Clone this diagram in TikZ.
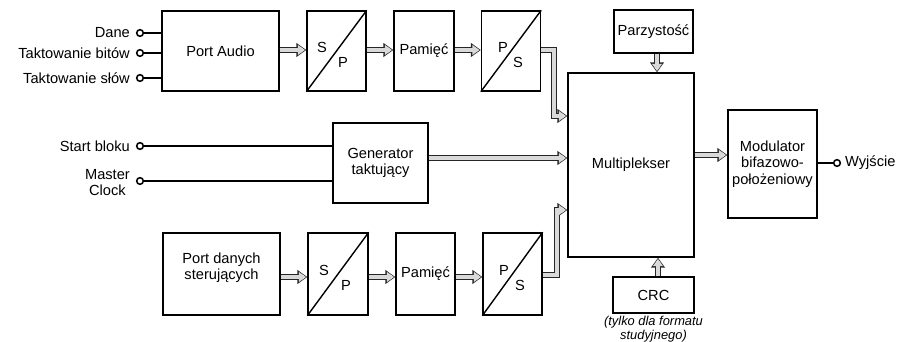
\documentclass[tikz,border=0pt]{standalone}
\usepackage{fontspec}
\setmainfont{Liberation Sans}
\usepackage{tikz}
\usetikzlibrary{arrows.meta,positioning}

\tikzset{
  blok/.style={draw,line width=1.2pt,rectangle,inner sep=1pt,align=center},
  wej/.style={draw,line width=1.3pt,circle,inner sep=0pt,minimum size=0.2cm,fill=white},
  opis/.style={anchor=east,inner sep=1pt},
  szyna/.style={draw=black!85,line width=4.4pt,-{Triangle[length=8.5pt,width=11.5pt]},
    postaction={draw=gray!30,line width=2.8pt,-{Triangle[length=6.2pt,width=8.2pt]},shorten >=1pt},
    postaction={draw=gray!30,line width=2.8pt,-,shorten >=3pt}},
  przew/.style={draw,line width=1.2pt}
}

\begin{document}
\begin{tikzpicture}[x=0.03cm,y=-0.03cm,font=\fontsize{12.5}{14}\selectfont]
\useasboundingbox (0,0) rectangle (898,342);
% tor audio
\node[blok,minimum width=3.51cm,minimum height=2.4cm] (pa) at (220.5,51) {Port Audio};
\node[blok,minimum width=1.77cm,minimum height=2.4cm] (sp1) at (336.5,51) {};
\node[blok,minimum width=1.8cm,minimum height=2.4cm] (pam1) at (424,51) {Pamięć};
\node[blok,minimum width=1.77cm,minimum height=2.4cm] (ps1) at (511,51) {};
\draw[line width=1.2pt] (sp1.south west) -- (sp1.north east);
\draw[line width=1.2pt] (ps1.south west) -- (ps1.north east);
\node (sp1s) at (322,47) {S};
\node (sp1p) at (343,62) {P};
\node (ps1p) at (503,47) {P};
\node (ps1s) at (518,62) {S};
% wejscia audio
\node[wej] (dane) at (140,33) {};
\node[wej] (bity) at (140,53) {};
\node[wej] (slowa) at (140,78) {};
\node[opis] (tdane) at (dane.west) [xshift=-0.14cm] {Dane};
\node[opis] (tbity) at (bity.west) [xshift=-0.14cm] {Taktowanie bitów};
\node[opis] (tslowa) at (slowa.west) [xshift=-0.14cm] {Taktowanie słów};
\draw[przew] (dane) -- (dane -| pa.west);
\draw[przew] (bity) -- (bity -| pa.west);
\draw[przew] (slowa) -- (slowa -| pa.west);
% generator
\node[blok,minimum width=2.85cm,minimum height=2.4cm] (gen) at (380.5,163) {Generator\\taktujący};
\node[wej] (start) at (140,146) {};
\node[wej] (clk) at (140,181) {};
\node[opis] (tstart) at (start.west) [xshift=-0.14cm] {Start bloku};
\node[opis,align=center] (tclk) at (clk.west) [xshift=-0.14cm,yshift=-0.05cm] {Master\\Clock};
\draw[przew] (start) -- (start -| gen.west);
\draw[przew] (clk) -- (clk -| gen.west);
% tor danych sterujacych
\node[blok,minimum width=3.51cm,minimum height=2.46cm] (pds) at (221.5,274) {};
\node[align=center] (tpds) at (pds.center) [yshift=0.18cm] {Port danych\\sterujących};
\node[blok,minimum width=1.8cm,minimum height=2.46cm] (sp2) at (338,274) {};
\node[blok,minimum width=1.77cm,minimum height=2.46cm] (pam2) at (425.5,274) {Pamięć};
\node[blok,minimum width=1.77cm,minimum height=2.46cm] (ps2) at (512.5,274) {};
\draw[line width=1.2pt] (sp2.south west) -- (sp2.north east);
\draw[line width=1.2pt] (ps2.south west) -- (ps2.north east);
\node (sp2s) at (324,270) {S};
\node (sp2p) at (346,285) {P};
\node (ps2p) at (504,270) {P};
\node (ps2s) at (520,285) {S};
% multiplekser i reszta
\node[blok,minimum width=3.78cm,minimum height=5.52cm] (mux) at (631,165) {Multiplekser};
\node[blok,minimum width=2.37cm,minimum height=1.29cm] (parz) at (653.5,31.5) {Parzystość};
\node[blok,minimum width=2.43cm,minimum height=1.08cm] (crc) at (653.5,295) {CRC};
\node[align=center,font=\fontsize{11}{12}\selectfont\itshape] (uwaga) at (653.5,329) {(tylko dla formatu\\studyjnego)};
\node[blok,minimum width=2.67cm,minimum height=3.24cm] (mod) at (772.5,164) {Modulator\\bifazowo-\\położeniowy};
\node[wej] (wyj) at (837,163) {};
\node[anchor=west,inner sep=1pt] (twyj) at (wyj.east) [xshift=0.08cm] {Wyjście};
\draw[przew] (mod.east |- wyj) -- (wyj);
% szyny
\draw[szyna] (pa.east |- 0,50) -- (sp1.west |- 0,50);
\draw[szyna] (sp1.east |- 0,50) -- (pam1.west |- 0,50);
\draw[szyna] (pam1.east |- 0,50) -- (ps1.west |- 0,50);
\draw[szyna] (ps1.east |- 0,50) -- (554,50) -- (554,116) -- (mux.west |- 0,116);
\draw[szyna] (pds.east |- 0,277) -- (sp2.west |- 0,277);
\draw[szyna] (sp2.east |- 0,277) -- (pam2.west |- 0,277);
\draw[szyna] (pam2.east |- 0,277) -- (ps2.west |- 0,277);
\draw[szyna] (ps2.east |- 0,275) -- (557,275) -- (557,210) -- (mux.west |- 0,210);
\draw[szyna] (gen.east |- 0,158) -- (mux.west |- 0,158);
\draw[szyna] (parz.south -| 657,0) -- (mux.north -| 657,0);
\draw[szyna] (crc.north -| 658,0) -- (mux.south -| 658,0);
\draw[szyna] (mux.east |- 0,155) -- (mod.west |- 0,155);
\end{tikzpicture}
\end{document}
